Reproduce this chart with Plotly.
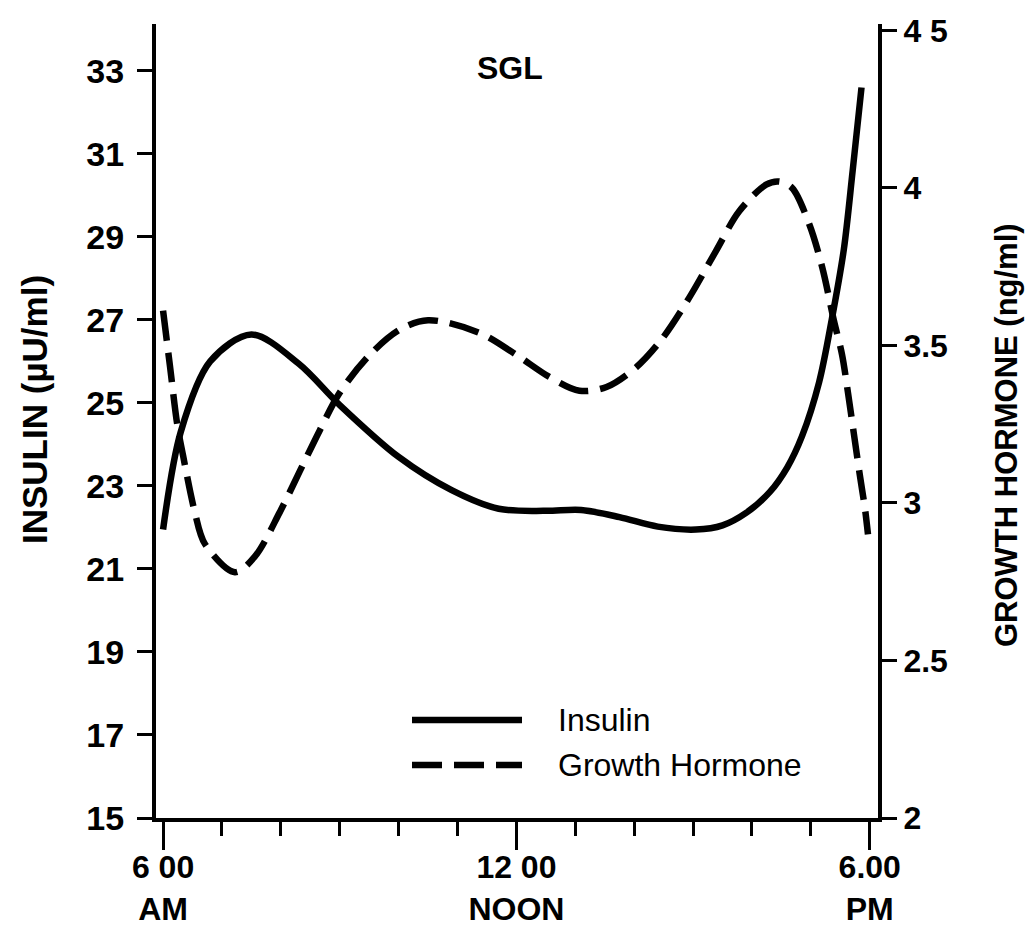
import plotly.graph_objects as go

# ---- data ----
insulin_hours = [6.0, 6.3, 6.8, 7.5, 8.3, 9.0, 10.0, 10.9, 11.7, 12.5, 13.1, 13.75, 14.4, 15.05,
                 15.5, 15.9, 16.3, 16.6, 16.85, 17.14, 17.36, 17.56, 17.71, 17.86]
insulin_vals = [21.95, 24.3, 26.0, 26.65, 25.95, 24.95, 23.7, 22.9, 22.45, 22.4, 22.42, 22.25, 22.02, 21.95,
                22.05, 22.35, 22.85, 23.45, 24.2, 25.5, 27.05, 28.7, 30.6, 32.6]

gh_hours = [6.0, 6.12, 6.24, 6.34, 6.54, 6.71, 7.22, 7.56, 7.98, 8.32, 8.66, 9.0, 9.51, 10.02, 10.5,
            11.37, 12.0, 12.56, 13.07, 13.53, 14.03, 14.47, 14.93, 15.39, 15.78, 16.24, 16.46, 16.68,
            16.97, 17.19, 17.39, 17.53, 17.63, 17.73, 17.83, 17.92, 17.97]
gh_vals = [3.61, 3.43, 3.25, 3.15, 2.97, 2.87, 2.78, 2.83, 2.97, 3.10, 3.23, 3.35, 3.47, 3.55, 3.58,
           3.54, 3.47, 3.40, 3.356, 3.368, 3.43, 3.52, 3.65, 3.80, 3.925, 4.01, 4.02, 4.0,
           3.886, 3.75, 3.58, 3.47, 3.35, 3.22, 3.09, 2.98, 2.90]

x_tickvals = [6, 12, 18]
x_ticktext = ["6 00<br>AM", "12 00<br>NOON", "6.00<br>PM"]
left_tickvals = [15, 17, 19, 21, 23, 25, 27, 29, 31, 33]
right_tickvals = [2, 2.5, 3, 3.5, 4, 4.5]
right_ticktext = ["2", "2.5", "3", "3.5", "4", "4 5"]

FONT = "Liberation Sans Narrow, Liberation Sans, Arial, sans-serif"
W, H = 1029, 941
ML, MR, MT, MB = 156, 151, 24, 123
PW, PH = W - ML - MR, H - MT - MB


def px(x):
    return (x - ML) / PW


def py(y):
    return (H - MB - y) / PH


fig = go.Figure()
fig.add_trace(go.Scatter(x=insulin_hours, y=insulin_vals, mode="lines", name="Insulin",
                         line=dict(color="black", width=6.5, shape="spline", smoothing=0.9),
                         showlegend=False))
fig.add_trace(go.Scatter(x=gh_hours, y=gh_vals, mode="lines", name="Growth Hormone", yaxis="y2",
                         line=dict(color="black", width=6.5, shape="spline", smoothing=0.9,
                                   dash="30px,12px"),
                         showlegend=False))

fig.update_layout(
    width=W, height=H,
    margin=dict(l=ML, r=MR, t=MT, b=MB, autoexpand=False),
    paper_bgcolor="white", plot_bgcolor="white",
    font=dict(family=FONT, color="black", weight="bold"),
    xaxis=dict(range=[5.88, 18.14], tickvals=x_tickvals, ticktext=x_ticktext, automargin=False,
               showline=True, linecolor="black", linewidth=4, showgrid=False, zeroline=False,
               ticks="outside", ticklen=28, tickwidth=3, tickcolor="black",
               ticklabelstandoff=-10,
               tickfont=dict(size=32, family=FONT, weight="bold"),
               minor=dict(dtick=1, tick0=6, ticks="outside", ticklen=14, tickwidth=3,
                          tickcolor="black", showgrid=False)),
    yaxis=dict(range=[15, 34.13], tickvals=left_tickvals, automargin=False,
               showline=True, linecolor="black", linewidth=4, showgrid=False, zeroline=False,
               ticks="outside", ticklen=15, tickwidth=3, tickcolor="black",
               ticklabelstandoff=6,
               tickfont=dict(size=34, family=FONT, weight="bold")),
    yaxis2=dict(range=[2, 4.52], tickvals=right_tickvals, ticktext=right_ticktext,
                overlaying="y", side="right", automargin=False,
                showline=True, linecolor="black", linewidth=4, showgrid=False, zeroline=False,
                ticks="outside", ticklen=15, tickwidth=3, tickcolor="black",
                tickfont=dict(size=32, family=FONT, weight="bold")),
)

annotations = [
    dict(text="SGL", x=px(510), y=py(68), xref="paper", yref="paper",
         xanchor="center", yanchor="middle",
         showarrow=False, font=dict(size=32, family=FONT, weight="bold")),
    dict(text="INSULIN (µU/ml)", x=px(34), y=py(410), xref="paper", yref="paper",
         xanchor="center", yanchor="middle",
         showarrow=False, textangle=-90, font=dict(size=35, family=FONT, weight="bold")),
    dict(text="GROWTH HORMONE (ng/ml)", x=px(1006), y=py(435), xref="paper", yref="paper",
         xanchor="center", yanchor="middle",
         showarrow=False, textangle=-90, font=dict(size=31, family=FONT, weight="bold")),
    dict(text="Insulin", x=px(556), y=py(720), xref="paper", yref="paper",
         xanchor="left", yanchor="middle",
         showarrow=False, font=dict(size=32, family=FONT, weight="normal")),
    dict(text="Growth Hormone", x=px(556), y=py(765), xref="paper", yref="paper",
         xanchor="left", yanchor="middle",
         showarrow=False, font=dict(size=32, family=FONT, weight="normal")),
]
fig.update_layout(annotations=annotations)

shapes = [
    dict(type="line", xref="paper", yref="paper", x0=px(412), x1=px(522), y0=py(720), y1=py(720),
         line=dict(color="black", width=6.5)),
    dict(type="line", xref="paper", yref="paper", x0=px(412), x1=px(522), y0=py(765), y1=py(765),
         line=dict(color="black", width=6.5, dash="30px,12px")),
]
fig.update_layout(shapes=shapes)

fig.write_html("out.html")
